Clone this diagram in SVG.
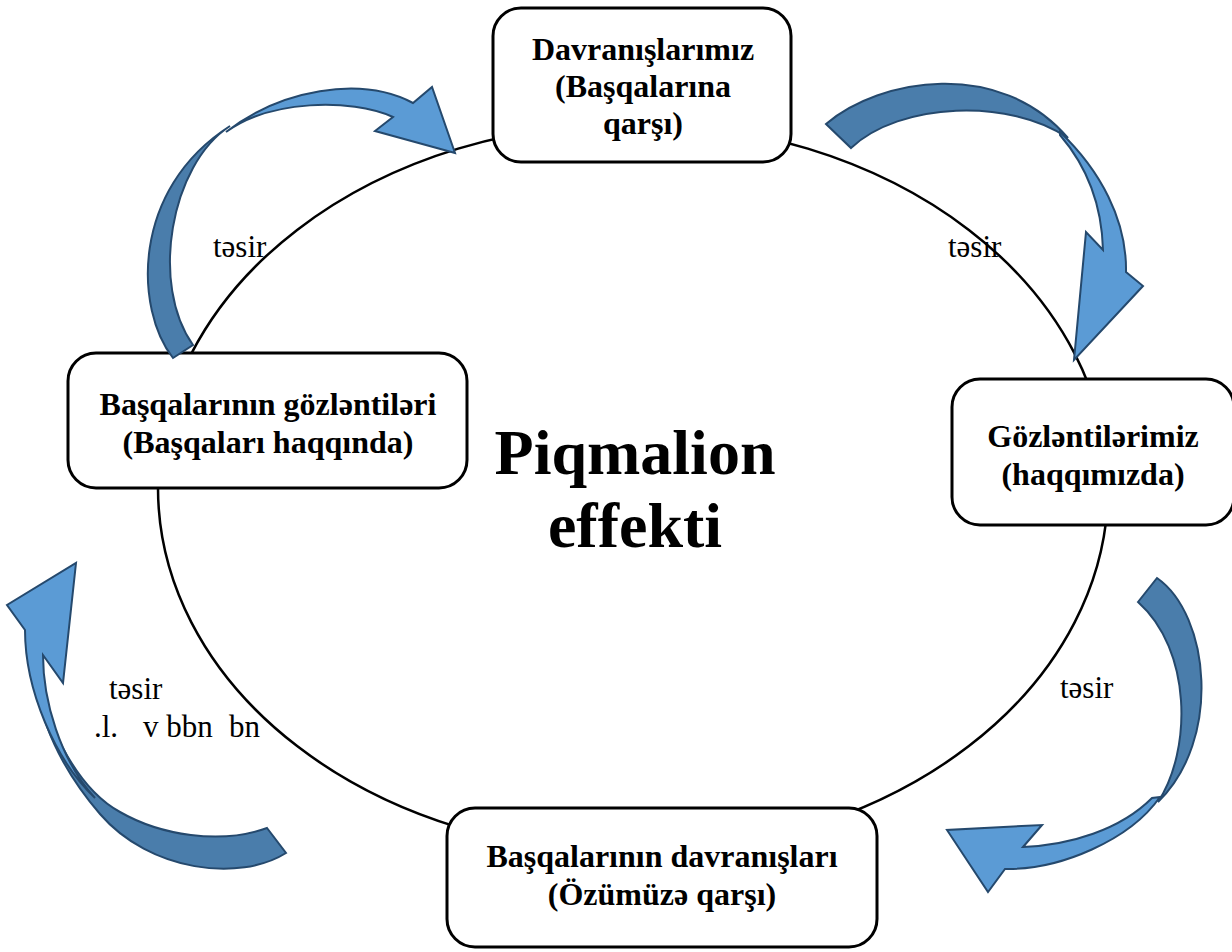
<svg xmlns="http://www.w3.org/2000/svg" width="1232" height="952" viewBox="0 0 1232 952">
<style>
.box{fill:#fff;stroke:#000;stroke-width:3}
.ring{fill:none;stroke:#000;stroke-width:2.5}
.t{font-family:"Liberation Serif","Times New Roman",serif;font-weight:bold;font-size:32px;fill:#000;text-anchor:middle}
.big{font-family:"Liberation Serif","Times New Roman",serif;font-weight:bold;font-size:64px;fill:#000;text-anchor:middle}
.lbl{font-family:"Liberation Serif","Times New Roman","DejaVu Serif",serif;font-weight:normal;font-style:normal;font-size:31px;fill:#000}
.dk{fill:#4a7dab;stroke:#25496d;stroke-width:2;stroke-linejoin:miter}
.lt{fill:#5b9bd5;stroke:#25496d;stroke-width:2;stroke-linejoin:miter}
</style>
<rect width="1232" height="952" fill="#fff"/>
<g id="cycle">
<ellipse class="ring" cx="633" cy="488" rx="475" ry="365"/>
</g>
<g id="center">
<text class="big" x="635" y="474">Piqmalion</text>
<text class="big" x="635" y="547">effekti</text>
</g>
<g id="node-top">
<rect class="box" x="493" y="8" width="298" height="154" rx="28"/>
<text class="t" x="643" y="60">Davranışlarımız</text>
<text class="t" x="643" y="97">(Başqalarına</text>
<text class="t" x="643" y="134">qarşı)</text>
</g>
<g id="node-right">
<rect class="box" x="952" y="379" width="282" height="146" rx="28"/>
<text class="t" x="1093" y="447">Gözləntilərimiz</text>
<text class="t" x="1093" y="485">(haqqımızda)</text>
</g>
<g id="node-bottom">
<rect class="box" x="447" y="808" width="430" height="139" rx="28"/>
<text class="t" x="662" y="867">Başqalarının davranışları</text>
<text class="t" x="662" y="905">(Özümüzə qarşı)</text>
</g>
<g id="node-left">
<rect class="box" x="68" y="353" width="399" height="135" rx="28"/>
<text class="t" x="268" y="415">Başqalarının gözləntiləri</text>
<text class="t" x="268" y="453">(Başqaları haqqında)</text>
</g>
<g id="labels">
<text class="lbl" x="213" y="257">təsir</text>
<text class="lbl" x="948" y="257">təsir</text>
<text class="lbl" x="1060" y="698">təsir</text>
<text class="lbl" x="109" y="699">təsir</text>
<text class="lbl" x="94" y="737">.l.</text>
<text class="lbl" x="143" y="737">v bbn</text>
<text class="lbl" x="229" y="737">bn</text>
</g>
<g id="connectors">
<path class="dk" d="M173,358 C135,310 130,190 230,126 C170,165 150,285 193,345 Z"/>
<path class="lt" d="M226,132 C280,90 360,75 413,103 L432,87 L455,153 L375,131 L393,117 C350,98 270,100 226,132 Z"/>
<path class="dk" d="M826,124 C880,78 1000,58 1068,138 C1010,98 900,102 851,148 Z"/>
<path class="lt" d="M1060,132 C1100,170 1127,220 1126,272 L1143,286 L1074,360 L1086,232 L1103,250 C1102,210 1090,170 1060,135 Z"/>
<path class="dk" d="M1138,602 L1157,578 C1210,615 1222,740 1158,802 C1192,750 1192,650 1138,602 Z"/>
<path class="lt" d="M1160,797 C1130,840 1060,870 1005,869 L988,892 L947,830 L1042,825 L1023,847 C1070,845 1120,830 1152,798 Z"/>
<path class="dk" d="M267,828 L286,853 C240,882 150,872 100,814 C68,777 42,730 38,688 C55,740 80,790 120,812 C160,835 220,845 267,828 Z"/>
<path class="lt" d="M76,563 L63,683 L43,655 C43,700 60,760 95,798 C55,760 25,690 25,630 L7,605 Z"/>
</g>
</svg>
